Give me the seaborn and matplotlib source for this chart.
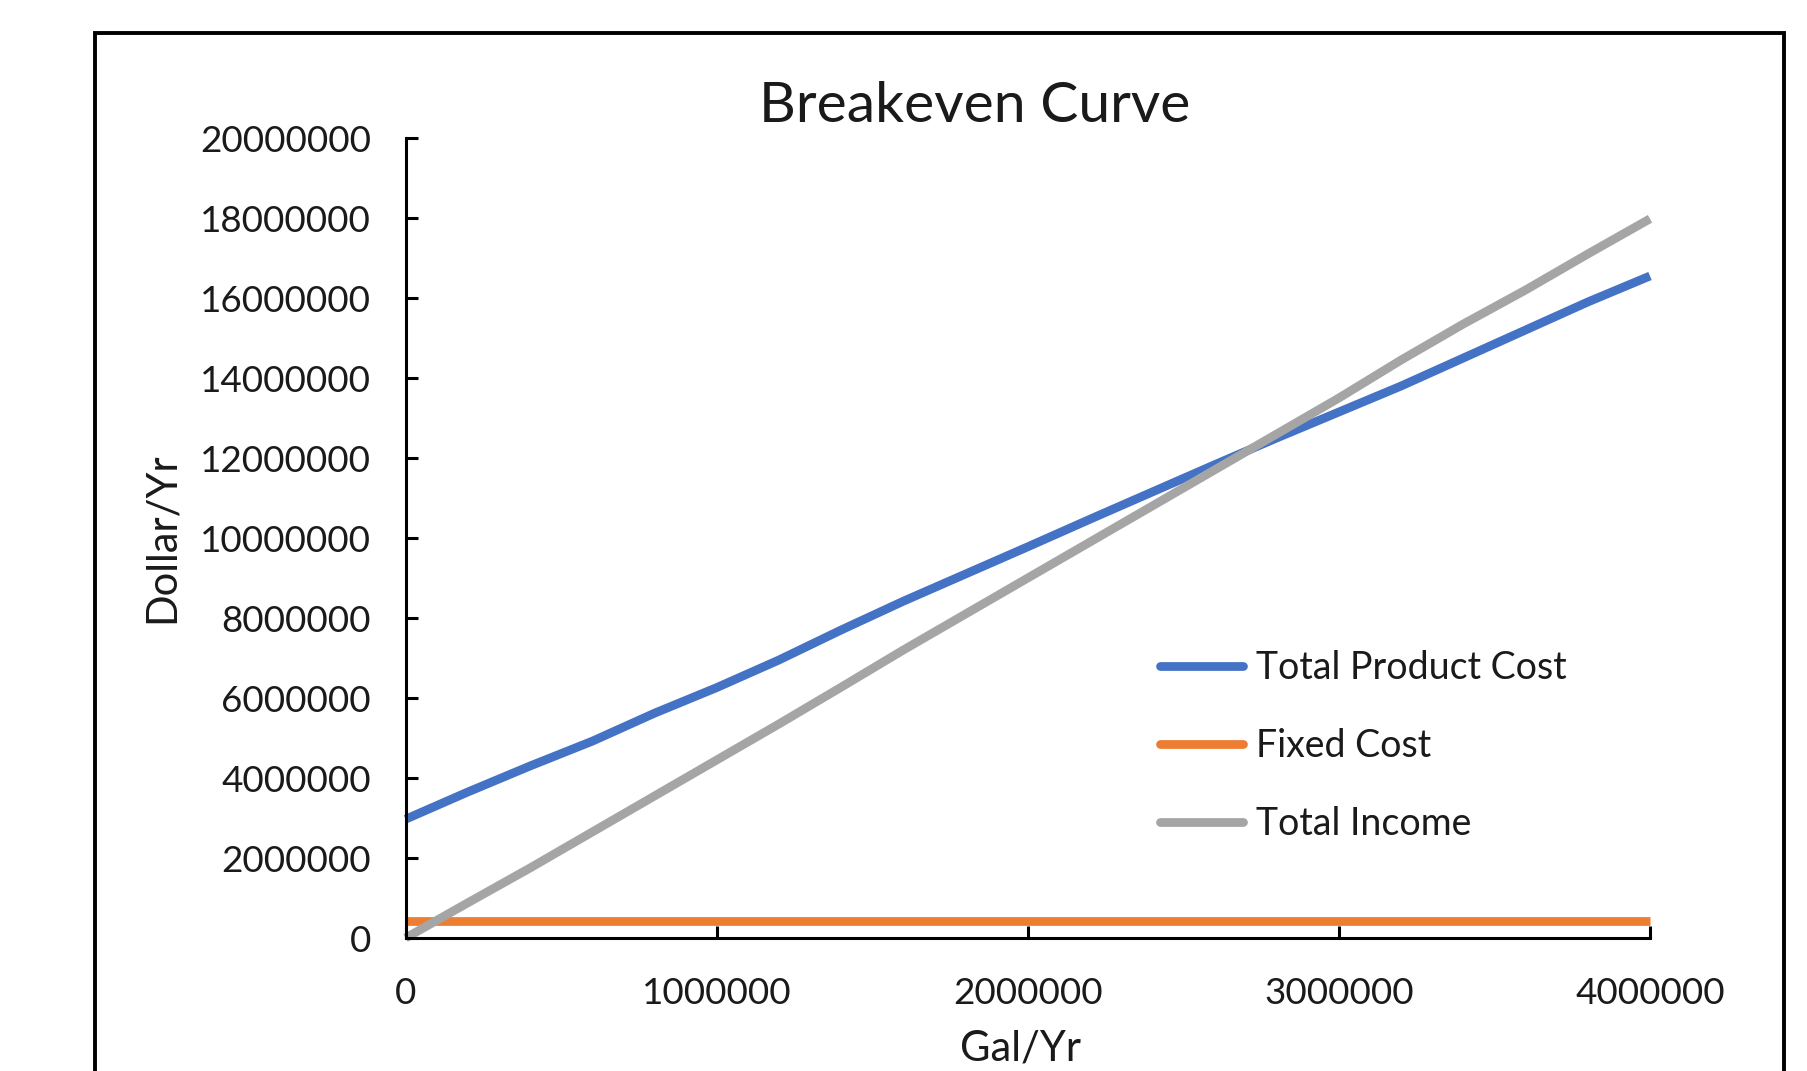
import matplotlib
matplotlib.use("Agg")
import matplotlib.pyplot as plt
from matplotlib.patches import Rectangle
import pandas as pd
import seaborn as sns

# Production volume (gal/yr) at which each cost/income figure was evaluated
gallons_per_year = [
    0, 200000, 400000, 600000, 800000, 1000000, 1200000, 1400000, 1600000,
    1800000, 2000000, 2200000, 2400000, 2600000, 2800000, 3000000, 3200000,
    3400000, 3600000, 3800000, 4000000,
]

# Dollars per year for each volume
total_product_cost = [
    2970000, 3650000, 4300000, 4920000, 5620000, 6260000, 6950000, 7700000,
    8420000, 9100000, 9780000, 10470000, 11150000, 11830000, 12500000,
    13150000, 13800000, 14500000, 15200000, 15900000, 16550000,
]
total_income = [
    0, 880000, 1750000, 2650000, 3550000, 4450000, 5350000, 6270000, 7200000,
    8100000, 9000000, 9900000, 10800000, 11700000, 12600000, 13500000,
    14450000, 15350000, 16200000, 17100000, 17980000,
]
fixed_cost = 430000

series_names = ["Total Product Cost", "Fixed Cost", "Total Income"]
series_colors = ["#4472C4", "#ED7D31", "#A5A5A5"]

x_ticks = [0, 1000000, 2000000, 3000000, 4000000]
y_ticks = [0, 2000000, 4000000, 6000000, 8000000, 10000000, 12000000,
           14000000, 16000000, 18000000, 20000000]

# Long-form table for seaborn
frames = []
for name, values in [
    ("Total Product Cost", total_product_cost),
    ("Fixed Cost", [fixed_cost] * len(gallons_per_year)),
    ("Total Income", total_income),
]:
    frames.append(pd.DataFrame({"Gal/Yr": gallons_per_year,
                                "Dollar/Yr": values,
                                "Series": name}))
data = pd.concat(frames, ignore_index=True)

sns.set_theme(style="white")
plt.rcParams["font.family"] = ["Lato", "DejaVu Sans"]
text_color = "#1a1a1a"

W, H = 1807, 1071
fig = plt.figure(figsize=(W / 100, H / 100), dpi=100)
fig.patch.set_facecolor("white")

# plot area placed in pixel terms
left_px, right_px, top_px, bottom_px = 405.6, 1650, 138, 938
ax = fig.add_axes([left_px / W, 1 - bottom_px / H,
                   (right_px - left_px) / W, (bottom_px - top_px) / H])

sns.lineplot(
    data=data, x="Gal/Yr", y="Dollar/Yr", hue="Series",
    hue_order=series_names, palette=dict(zip(series_names, series_colors)),
    estimator=None, sort=False, linewidth=6.3, ax=ax,
)
for line in ax.lines:
    line.set_clip_on(False)
    line.set_solid_capstyle("butt")
    line.set_solid_joinstyle("round")

ax.set_xlim(0, 4000000)
ax.set_ylim(0, 20000000)
ax.set_xticks(x_ticks)
ax.set_yticks(y_ticks)
ax.set_xticklabels([str(v) for v in x_ticks])
ax.set_yticklabels([str(v) for v in y_ticks])

sns.despine(ax=ax)
for side in ("left", "bottom"):
    ax.spines[side].set_color("black")
    ax.spines[side].set_linewidth(2.2)

ax.tick_params(axis="both", which="major", bottom=True, left=True,
               direction="in", length=8.6, width=2.2,
               color="black", labelcolor=text_color, labelsize=26.6)
ax.tick_params(axis="x", pad=28)
ax.tick_params(axis="y", pad=25)

ax.set_xlabel("Gal/Yr", fontsize=30, color=text_color)
ax.set_ylabel("Dollar/Yr", fontsize=30, color=text_color)
ax.xaxis.set_label_coords(0.494, -0.114)
ax.yaxis.set_label_coords(-0.181, 0.5)

fig.text(975 / W, 1 - 106 / H, "Breakeven Curve", fontsize=41,
         color=text_color, ha="center", va="center")

leg = ax.legend(
    loc="upper left", bbox_to_anchor=(1160 / W, 1 - 650 / H),
    bbox_transform=fig.transFigure, frameon=False, borderpad=0,
    borderaxespad=0, fontsize=27, handlelength=2.2, handletextpad=0.36,
    labelspacing=1.12,
)
for handle in leg.legend_handles:
    handle.set_linewidth(6.3)
    handle.set_solid_capstyle("round")
for txt in leg.get_texts():
    txt.set_color(text_color)

# chart-area frame (open at the bottom edge of the image)
fig.patches.append(Rectangle(
    (94.5 / W, -0.05), (1784 - 94.5) / W, (1071 - 33) / H + 0.05,
    transform=fig.transFigure, fill=False, edgecolor="black",
    linewidth=2.8, clip_on=False,
))

fig.savefig("out.png", dpi=100, facecolor="white")
